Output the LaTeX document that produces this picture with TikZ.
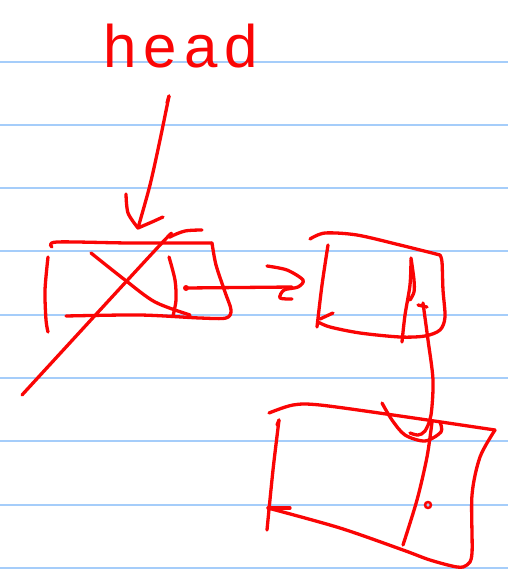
\documentclass[tikz,border=0pt]{standalone}
\usepackage{fontspec}
\setmainfont{Liberation Sans}
\usepackage{tikz}
\usetikzlibrary{positioning}
\definecolor{penred}{RGB}{250,5,5}
\definecolor{ruleblue}{RGB}{165,205,250}

\begin{document}
\begin{tikzpicture}[
  x=1pt, y=-1pt,
  pen/.style={draw=penred, line width=3.3pt, line cap=round, line join=round},
  ruling/.style={draw=ruleblue, line width=1.6pt},
  label/.style={text=penred, anchor=base west, inner sep=0pt,
    font=\fontsize{60}{60}\selectfont\addfontfeature{LetterSpace=12}}
]
\fill[white] (0,0) rectangle (508,571);
\useasboundingbox (0,0) rectangle (508,571);

% notebook rules
\foreach \yy in {62,125,188,251,315,378,441,505,568}
  \draw[ruling] (0,\yy) -- (508,\yy);

\node[label] (head) at (103,67) {head};

\coordinate (tail) at (169,96);
\coordinate (tip) at (138,228);
\coordinate (linkA) at (186,288);
\coordinate (linkB) at (292,287);
\coordinate (linkC) at (423,303);
\coordinate (linkD) at (410,433);

% head pointer
\draw[pen] plot[smooth] coordinates {(tail) (160,140) (150,185) (tip)};
\draw[pen] (tail) -- (167,103);
\draw[pen] plot[smooth] coordinates {(126,194) (128,213) (tip)} -- (152,222) -- (163,217);

% first box (crossed out)
\draw[pen] plot[smooth] coordinates {(52,247) (57,242) (130,243) (212,243)};
\draw[pen] plot[smooth] coordinates {(212,243) (216,265) (225,292) (231,310) (226,318) (200,318) (140,315) (66,316)};
\draw[pen] plot[smooth] coordinates {(48,257) (45,290) (46,320) (48,332)};
\draw[pen] plot[smooth] coordinates {(169,257) (175,280) (176,300) (173,316)};
\draw[pen] plot[smooth] coordinates {(91,253) (125,280) (155,302) (190,315)};
\draw[pen] plot[smooth] coordinates {(202,230) (185,231) (170,237) (160,245) (22,395)};

% next pointer
\fill[penred] (linkA) circle (3);
\draw[pen] (linkA) -- (linkB);
\draw[pen] plot[smooth] coordinates {(267,266) (287,270) (303,280) (298,287) (284,290) (280,298) (292,299)};

% second box
\draw[pen] plot[smooth] coordinates {(310,239) (325,233) (357,235) (400,245) (440,255)};
\draw[pen] plot[smooth] coordinates {(440,255) (442,262) (443,290) (445,317) (440,330) (425,336) (400,337) (360,333) (330,327) (318,322)};
\draw[pen] plot[smooth] coordinates {(328,245) (322,285) (317,327)};
\draw[pen] (333,313) -- (320,319);
\draw[pen] plot[smooth] coordinates {(411,258) (414,280) (414,292) (410,300)};
\draw[pen] plot[smooth] coordinates {(411,260) (410,285) (405,315) (402,342)};

% link down to third box
\draw[pen] (418,305) -- (427,307);
\draw[pen] plot[smooth] coordinates {(linkC) (428,340) (433,380) (431,415) (425,431) (418,435) (linkD)};

% third box
\draw[pen] plot[smooth] coordinates {(269,413) (293,405) (320,405) (400,416) (495,430)};
\draw[pen] plot[smooth] coordinates {(495,430) (480,457) (472,495) (472,553) (467,565) (457,567) (430,560) (403,550) (340,528) (268,508)};
\draw[pen] (268,508) -- (290,508);
\draw[pen] plot[smooth] coordinates {(279,420) (273,470) (267,530)};
\draw[pen] (279,420) -- (277,425);
\draw[pen] plot[smooth] coordinates {(432,422) (427,457) (417,500) (403,545)};
\draw[pen, line width=2.5pt] (428,505) circle (3);
\draw[pen] plot[smooth] coordinates {(382,403) (392,420) (405,435) (425,441) (441,432) (440,422)};
\end{tikzpicture}
\end{document}
